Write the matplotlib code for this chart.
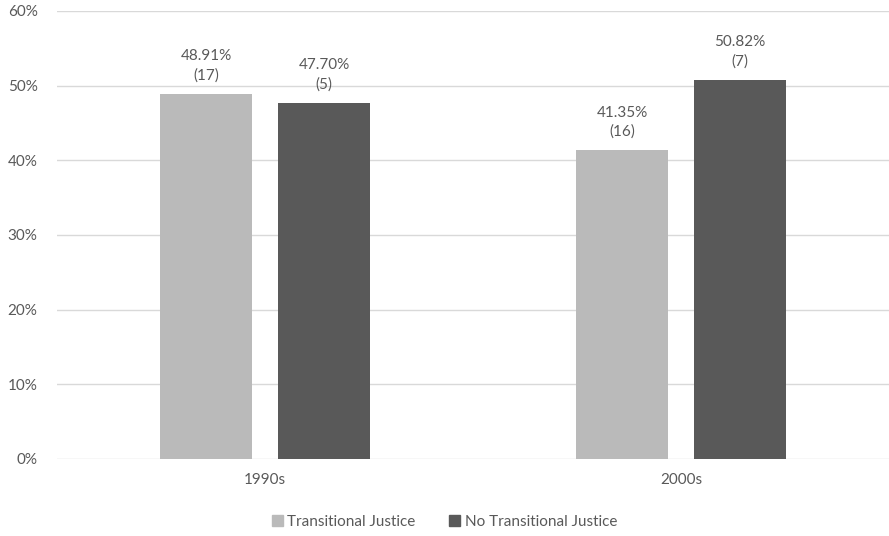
import matplotlib.pyplot as plt
import numpy as np
from matplotlib.patches import Patch

decades = ["1990s", "2000s"]
tj_share = [48.91, 41.35]
tj_count = [17, 16]
no_tj_share = [47.70, 50.82]
no_tj_count = [5, 7]

light = "#BABABA"
dark = "#595959"
text_col = "#595959"

plt.rcParams["font.family"] = ["Lato", "DejaVu Sans"]

fig = plt.figure(figsize=(8.89, 5.36), dpi=100)
ax = fig.add_axes([0.0641, 0.1437, 0.9359, 0.8358])

x = np.arange(len(decades))
w = 0.223
off = 0.142
b1 = ax.bar(x - off, tj_share, w, color=light, zorder=3)
b2 = ax.bar(x + off, no_tj_share, w, color=dark, zorder=3)

# value and count printed above each bar
for bars, vals, counts in [(b1, tj_share, tj_count), (b2, no_tj_share, no_tj_count)]:
    for bar, v, c in zip(bars, vals, counts):
        ax.annotate(f"{v:.2f}%\n({c})", (bar.get_x() + bar.get_width() / 2, v),
                    xytext=(0, 8), textcoords="offset points", ha="center", va="bottom",
                    fontsize=11, color=text_col, linespacing=1.45)

ax.set_xlim(-0.5, 1.5)
ax.set_ylim(0, 60)
ax.set_yticks(range(0, 61, 10))
ax.set_yticklabels([f"{t}%" for t in range(0, 61, 10)])
ax.set_xticks(x)
ax.set_xticklabels(decades)
ax.yaxis.grid(True, color="#D9D9D9", linewidth=1.0, zorder=0)
ax.set_axisbelow(True)
for s in ax.spines.values():
    s.set_visible(False)
ax.tick_params(axis="both", length=0, colors=text_col, labelsize=11)
ax.tick_params(axis="y", pad=14)
ax.tick_params(axis="x", pad=10)

handles = [Patch(color=light, label="Transitional Justice"),
           Patch(color=dark, label="No Transitional Justice")]
fig.legend(handles=handles, loc="center", bbox_to_anchor=(0.5, 0.026), ncol=2,
           frameon=False, fontsize=11, labelcolor=text_col, handlelength=0.7,
           handleheight=0.7, handletextpad=0.3, columnspacing=2.2)

fig.savefig("out.png", dpi=100)
